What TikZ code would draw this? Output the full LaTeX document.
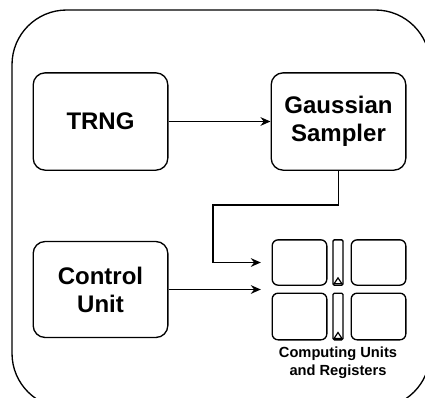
\documentclass[tikz,border=0pt]{standalone}
\usepackage{fontspec}
\setmainfont{Liberation Sans}
\usetikzlibrary{arrows.meta}

\tikzset{
  block/.style={draw, line width=1pt, rounded corners=9pt, minimum width=101pt, minimum height=73pt,
    align=center, font=\fontsize{18}{21}\selectfont\bfseries, inner sep=0pt},
  cell/.style={draw, line width=1pt, rounded corners=4.5pt, minimum width=41pt, inner sep=0pt},
  reg/.style={draw, line width=1pt, rounded corners=1pt, minimum width=7.5pt, inner sep=0pt},
  arr/.style={line width=1pt, -{Stealth[length=7.5pt,width=6.5pt]}}
}

\begin{document}
\begin{tikzpicture}[x=0.75pt,y=-0.75pt]
\useasboundingbox (0,0) rectangle (425,397);
\clip (0,0) rectangle (425,397);
\draw[line width=1pt, rounded corners=41pt] (12,10) rectangle (430,408); % chip outline
\node[block] (trng) at (100.5,121.5) {TRNG};
\node[block] (gauss) at (338.5,121.5) {Gaussian\\Sampler};
\node[block, minimum height=72pt] (ctrl) at (100.5,289.5) {Control\\Unit};
% computing cells and registers
\node[cell, minimum height=34pt] (c11) at (299.5,262.5) {};
\node[cell, minimum height=34pt] (c12) at (378.5,262.5) {};
\node[cell, minimum height=35pt] (c21) at (299.5,316.5) {};
\node[cell, minimum height=35pt] (c22) at (378.5,316.5) {};
\node[reg, minimum height=34pt] (r1) at (338,262.5) {};
\node[reg, minimum height=35pt] (r2) at (338,316.5) {};
\draw[line width=0.9pt] ([shift={(-4,-2)}]r1.south) -- ([shift={(4,-2)}]r1.south) -- ([shift={(0,-8)}]r1.south) -- cycle;
\draw[line width=0.9pt] ([shift={(-4,-2)}]r2.south) -- ([shift={(4,-2)}]r2.south) -- ([shift={(0,-8)}]r2.south) -- cycle;
\node[align=center, font=\fontsize{11}{13.5}\selectfont\bfseries, inner sep=0pt] (units) at (338,363) {Computing Units\\and Registers};
% connections
\coordinate (bend) at (213,205);
\draw[arr] (trng.east) -- (gauss.west);
\draw[arr, shorten >=8pt] (gauss.south) |- (bend) |- (c11.west);
\draw[arr, shorten >=8pt] (ctrl.east) -- (ctrl.east -| c11.west);
\end{tikzpicture}
\end{document}
